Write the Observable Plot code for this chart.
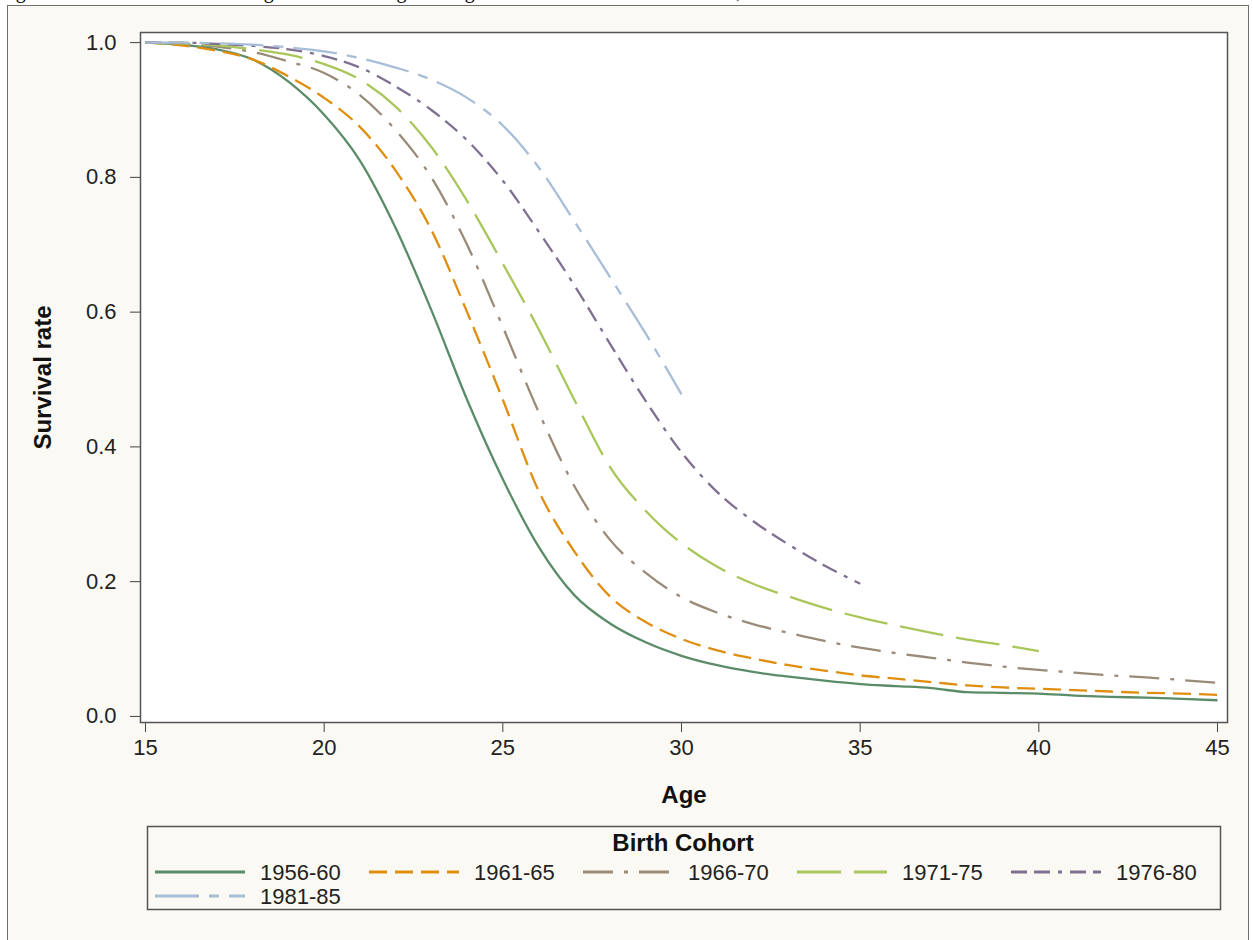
<!DOCTYPE html>
<html>
<head>
<meta charset="utf-8">
<script src="https://cdn.jsdelivr.net/npm/d3@7"></script>
<script src="https://cdn.jsdelivr.net/npm/@observablehq/plot@0.6"></script>
<style>
  body { margin: 0; background: #ffffff; }
  #wrap { position: relative; width: 1253px; height: 940px; overflow: hidden; background: #ffffff; }
  #title { position: absolute; left: 0; top: 0; width: 1253px; height: 6px; overflow: hidden; }
  #title div { position: absolute; left: -1px; top: -21px; white-space: nowrap; font: 20px "Liberation Serif", serif; line-height: 24px; color: #000; }
  #panel { position: absolute; left: 7px; top: 5px; width: 1240px; height: 960px; background: #FBF9F3; border: 1px solid #6e6e6e; }
  #chart { position: absolute; left: 0; top: 0; }
  #legend { position: absolute; left: 0; top: 0; }
</style>
</head>
<body>
<div id="wrap">
  <div id="title"><div>Figure 1. The trend of women's age at first marriage among birth cohorts from 1956 to 1985, South Korea</div></div>
  <div id="panel"></div>
  <div id="chart"></div>
  <svg id="legend" width="1253" height="940"></svg>
</div>
<script>
// ---- data ----
const ages = [15,16,17,18,19,20,21,22,23,24,25,26,27,28,29,30,31,32,33,34,35,36,37,38,39,40,41,42,43,44,45];
const cohorts = ["1956-60","1961-65","1966-70","1971-75","1976-80","1981-85"];
const s1956_60 = [1.000,0.997,0.990,0.975,0.942,0.893,0.825,0.725,0.603,0.470,0.352,0.252,0.180,0.138,0.110,0.090,0.076,0.066,0.059,0.053,0.048,0.045,0.042,0.036,0.035,0.034,0.031,0.029,0.028,0.026,0.024];
const s1961_65 = [1.000,0.996,0.988,0.975,0.950,0.918,0.875,0.810,0.722,0.600,0.470,0.335,0.245,0.178,0.140,0.115,0.098,0.086,0.076,0.068,0.061,0.056,0.051,0.046,0.043,0.041,0.039,0.037,0.035,0.034,0.032];
const s1966_70 = [1.000,0.998,0.994,0.986,0.972,0.955,0.922,0.870,0.800,0.700,0.578,0.452,0.342,0.262,0.213,0.177,0.154,0.137,0.124,0.112,0.102,0.094,0.087,0.080,0.074,0.069,0.065,0.061,0.058,0.054,0.050];
const s1971_75 = [1.000,0.999,0.996,0.990,0.982,0.968,0.945,0.905,0.845,0.765,0.672,0.575,0.470,0.370,0.305,0.257,0.222,0.197,0.178,0.161,0.147,0.135,0.124,0.114,0.106,0.097];
const s1976_80 = [1.000,1.000,0.998,0.995,0.990,0.980,0.963,0.935,0.900,0.855,0.795,0.720,0.640,0.553,0.468,0.392,0.333,0.290,0.255,0.224,0.197];
const s1981_85 = [1.000,1.000,0.999,0.997,0.993,0.987,0.977,0.963,0.945,0.918,0.877,0.815,0.735,0.652,0.568,0.478];
const xTicks = [15,20,25,30,35,40,45];
const yTicks = [0.0,0.2,0.4,0.6,0.8,1.0];
const colors = ["#5B8C68","#E08E10","#9A8B78","#A9C65A","#7F7092","#A8BED8"];
const dashes = [null,"18,8","30,11,4,11","44,13","16,7,16,8,4,8","44,10,10,10"];
const series = [s1956_60,s1961_65,s1966_70,s1971_75,s1976_80,s1981_85];

const rows = cohorts.flatMap((c, i) => series[i].map((v, j) => ({cohort: c, age: ages[j], rate: v})));

const font = "'Liberation Sans', Arial, sans-serif";
const marks = [Plot.frame({fill: "white", stroke: null})];
cohorts.forEach((c, i) => {
  const opts = {x: "age", y: "rate", stroke: "cohort", strokeWidth: 2.3, curve: "monotone-x", strokeLinejoin: "round", strokeLinecap: "butt"};
  if (dashes[i]) opts.strokeDasharray = dashes[i];
  marks.push(Plot.line(rows.filter(d => d.cohort === c), opts));
});
marks.push(
  Plot.axisX({ticks: xTicks, tickSize: 10, tickPadding: 7, tickFormat: d3.format("d"), label: null, stroke: "#444", fill: "#222"}),
  Plot.axisY({ticks: yTicks, tickSize: 10, tickPadding: 14, tickFormat: d3.format(".1f"), label: null, stroke: "#444", fill: "#222"}),
  Plot.text(["Age"], {frameAnchor: "bottom", textAnchor: "middle", dy: 80, fontWeight: "bold", fontSize: 24, fill: "#111"}),
  Plot.text(["Survival rate"], {frameAnchor: "left", textAnchor: "middle", rotate: -90, dx: -97, fontWeight: "bold", fontSize: 24, fill: "#111"}),
  Plot.frame({stroke: "#555", strokeWidth: 1.5})
);

const chart = Plot.plot({
  width: 1253,
  height: 815,
  marginLeft: 140,
  marginRight: 26,
  marginTop: 32,
  marginBottom: 93,
  x: {domain: [14.86, 45.28]},
  y: {domain: [-0.009, 1.015]},
  color: {domain: cohorts, range: colors},
  style: {background: "transparent", fontFamily: font, fontSize: "22px", overflow: "visible"},
  marks
});
document.getElementById("chart").appendChild(chart);

// ---- legend ----
const lg = d3.select("#legend").style("font-family", font);
lg.append("rect").attr("x", 147.5).attr("y", 826.5).attr("width", 1073).attr("height", 83)
  .attr("fill", "none").attr("stroke", "#555").attr("stroke-width", 1.5);
lg.append("text").attr("x", 683).attr("y", 851).attr("text-anchor", "middle")
  .attr("font-weight", "bold").attr("font-size", 24).attr("fill", "#111").text("Birth Cohort");
cohorts.forEach((c, i) => {
  const col = i % 5, row = Math.floor(i / 5);
  const x0 = 155 + col * 214;
  const y = 872 + row * 24;
  const ln = lg.append("line").attr("x1", x0).attr("x2", x0 + 90).attr("y1", y).attr("y2", y)
    .attr("stroke", colors[i]).attr("stroke-width", 3);
  if (dashes[i]) ln.attr("stroke-dasharray", dashes[i]);
  lg.append("text").attr("x", x0 + 105).attr("y", y).attr("dy", "0.36em")
    .attr("font-size", 22).attr("fill", "#222").text(c);
});
</script>
</body>
</html>
